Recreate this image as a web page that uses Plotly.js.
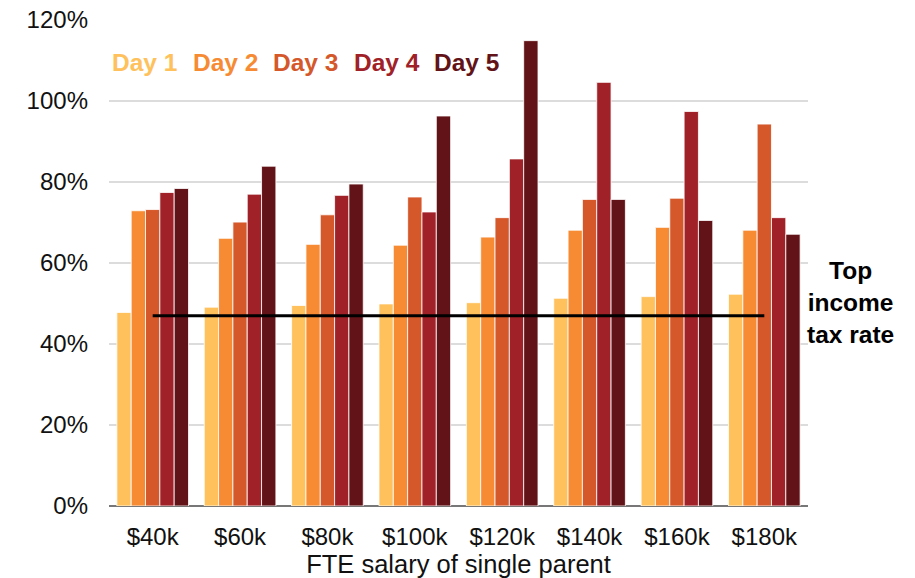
<!DOCTYPE html>
<html>
<head>
<meta charset="utf-8">
<script src="https://cdn.plot.ly/plotly-3.0.1.min.js"></script>
<style>html,body{margin:0;padding:0;background:#fff;}#chart{width:915px;height:578px;}</style>
</head>
<body>
<div id="chart"></div>
<script>
const categories = ['$40k','$60k','$80k','$100k','$120k','$140k','$160k','$180k'];
const seriesNames = ['Day 1','Day 2','Day 3','Day 4','Day 5'];
const day1 = [47.8, 49.1, 49.5, 49.9, 50.2, 51.3, 51.7, 52.3];
const day2 = [72.9, 66.1, 64.6, 64.4, 66.4, 68.1, 68.8, 68.1];
const day3 = [73.2, 70.1, 71.9, 76.3, 71.2, 75.7, 76.0, 94.3];
const day4 = [77.4, 77.0, 76.7, 72.6, 85.7, 104.6, 97.4, 71.2];
const day5 = [78.4, 83.9, 79.5, 96.3, 114.9, 75.7, 70.5, 67.1];
const topTaxRate = 47;
const topTaxLabel = 'Top<br>income<br>tax rate';
const xTitle = 'FTE salary of single parent';

const colors = ['#FEC15C','#F68B34','#D5582B','#A02127','#621317'];
const series = [day1, day2, day3, day4, day5];
const font = 'Liberation Sans, Arial, sans-serif';

const traces = series.map((vals, i) => ({
  type: 'bar', name: seriesNames[i], x: categories, y: vals,
  marker: {color: colors[i], line: {color: 'rgba(255,255,255,0.8)', width: 1}},
  showlegend: false, hoverinfo: 'skip'
}));
traces.push({
  type: 'scatter', mode: 'lines',
  x: [categories[0], categories[categories.length-1]],
  y: [topTaxRate, topTaxRate],
  line: {color: '#000', width: 3}, showlegend: false, hoverinfo: 'skip'
});

const annotations = seriesNames.map((n, i) => ({
  text: '<b>' + n + '</b>', xref: 'paper', yref: 'paper',
  x: (110 - 109 + i * 80.5) / 699, y: (506 - 62) / 486.5,
  xanchor: 'left', yanchor: 'middle', showarrow: false,
  font: {family: font, size: 24.5, color: colors[i]}
}));
annotations.push({
  text: '<b>' + topTaxLabel + '</b>', xref: 'paper', yref: 'paper',
  x: (850 - 109) / 699, y: (506 - 302) / 486.5,
  xanchor: 'center', yanchor: 'middle', showarrow: false, align: 'center',
  font: {family: font, size: 24.5, color: '#000'}
});

const layout = {
  width: 915, height: 578,
  margin: {l: 109, r: 107, t: 19.5, b: 72, pad: 0},
  paper_bgcolor: '#fff', plot_bgcolor: '#fff',
  font: {family: font, size: 24, color: '#111'},
  barmode: 'group', bargap: 0.18, bargroupgap: 0,
  xaxis: {
    type: 'category', showgrid: false, showline: false, zeroline: false,
    tickfont: {family: font, size: 24, color: '#111'},
    ticks: '', ticklabelstandoff: 14,
    title: {text: xTitle, font: {family: font, size: 25.5, color: '#111'}, standoff: 6}
  },
  yaxis: {
    range: [0, 120], dtick: 20, tick0: 0, ticksuffix: '%',
    showgrid: true, gridcolor: '#DCDCDC', gridwidth: 1.5,
    zeroline: true, zerolinecolor: '#777', zerolinewidth: 1.5,
    showline: false, ticks: '', ticklabelstandoff: 20,
    tickfont: {family: font, size: 24, color: '#111'}
  },
  annotations: annotations,
  showlegend: false
};

Plotly.newPlot('chart', traces, layout, {staticPlot: true, displayModeBar: false});
</script>
</body>
</html>
